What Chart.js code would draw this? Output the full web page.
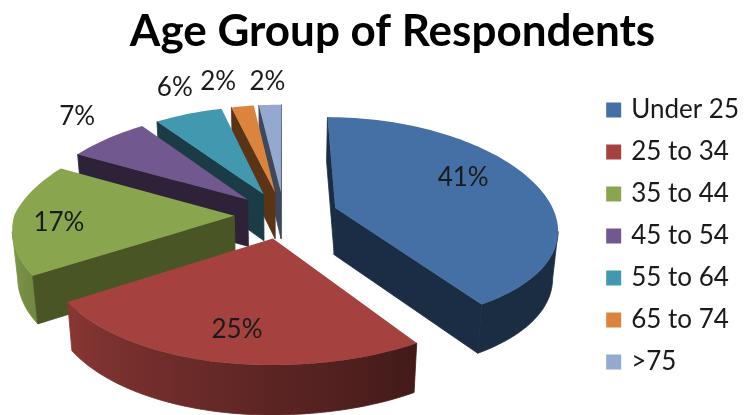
<!DOCTYPE html>
<html>
<head>
<meta charset="utf-8">
<title>Age Group of Respondents</title>
<script src="https://cdn.jsdelivr.net/npm/chart.js@4/dist/chart.umd.js"></script>
<style>
  html, body { margin: 0; padding: 0; background: #fff; }
  canvas { display: block; filter: blur(0.4px); }
</style>
</head>
<body>
<canvas id="myChart" width="744" height="415"></canvas>
<script>
const categories = ["Under 25", "25 to 34", "35 to 44", "45 to 54", "55 to 64", "65 to 74", ">75"];
const percents = [41, 25, 17, 7, 6, 2, 2];

const topColors = ["#4470a5", "#a5423f", "#89a54e", "#71588f", "#4198af", "#db843d", "#93a9cf"];
const sideColors = ["#1a2d44", "#4a1a18", "#4a5526", "#2d2238", "#1b3c46", "#5b3416", "#3f485b"];
const sliceOffsets = [37, 34, 34, 34, 34, 34, 34];
// label position along the slice radius, then a small nudge in pixels
const labelRadius = [0.62, 0.6, 0.6, 1.2, 1.2, 1.2, 1.2];
const labelNudge = [[4, -13], [-3, 21], [-43, 5], [-6, -11], [-1, -12], [-19, -10], [-1, -8]];

// tilted view of the pie, unit radius = view.a px wide and view.b px deep
const view = { x: 284, y: 215, a: 220, b: 104, perspX: 5.5, perspY: 7.9, nearLeft: 17, depth: 47, taper: 0.98 };

function project(X, Y) {
  // the near left quarter sits a little tighter than plain perspective gives
  const pull = view.nearLeft * Math.max(0, -X) * Math.max(0, -Y);
  return {
    x: view.x + view.a * X / (1 + Y / view.perspX) + pull,
    y: view.y - view.b * Y / (1 + Y / view.perspY)
  };
}

function extrude(p, Y) {
  return {
    x: view.x + (p.x - view.x) * view.taper,
    y: p.y + view.depth * (1 - Y * 0.05)
  };
}

function sliceWorld(arc) {
  const { startAngle, endAngle, outerRadius } = arc.getProps(["startAngle", "endAngle", "outerRadius"]);
  const mid = (startAngle + endAngle) / 2;
  const off = arc.options.offset / outerRadius;
  return { startAngle, endAngle, mid, apexX: Math.cos(mid) * off, apexY: -Math.sin(mid) * off };
}

function shade(hex, f) {
  const n = parseInt(hex.slice(1), 16);
  const c = [n >> 16, (n >> 8) & 255, n & 255].map(v => Math.round(v * f));
  return `rgb(${c[0]}, ${c[1]}, ${c[2]})`;
}

function wallShade(angle) {
  // clockwise degrees from the top of the pie
  const deg = (angle * 180 / Math.PI + 90 + 360) % 360;
  return Math.min(0.92, Math.max(0.4, 0.4 + (deg - 147) / 90 * 0.43));
}

class Arc3D extends Chart.ArcElement {
  draw(ctx) {
    const w = sliceWorld(this);
    const i = this.$context.dataIndex;
    const top = [], bottom = [], angles = [];
    const add = (X, Y, a) => {
      const p = project(X, Y);
      top.push(p);
      bottom.push(extrude(p, Y));
      angles.push(a);
    };
    add(w.apexX, w.apexY, null);
    const steps = Math.ceil((w.endAngle - w.startAngle) / 0.03);
    for (let s = 0; s <= steps; s++) {
      const a = w.startAngle + (w.endAngle - w.startAngle) * s / steps;
      add(w.apexX + Math.cos(a), w.apexY - Math.sin(a), a);
    }

    ctx.lineWidth = 0.8;

    // curved wall: the part of the rim running right to left on screen
    const run = [];
    for (let k = 1; k < top.length; k++) {
      const goesLeft = (k < top.length - 1 && top[k + 1].x < top[k].x) || (k > 1 && top[k].x < top[k - 1].x);
      if (goesLeft) run.push(k);
    }
    if (run.length > 1) {
      const right = top[run[0]].x;
      const left = top[run[run.length - 1]].x;
      const grad = ctx.createLinearGradient(left, 0, right, 0);
      run.forEach(k => {
        const pos = (top[k].x - left) / (right - left);
        grad.addColorStop(Math.min(1, Math.max(0, pos)), shade(topColors[i], wallShade(angles[k])));
      });
      ctx.beginPath();
      run.forEach((k, c) => (c ? ctx.lineTo(top[k].x, top[k].y) : ctx.moveTo(top[k].x, top[k].y)));
      run.slice().reverse().forEach(k => ctx.lineTo(bottom[k].x, bottom[k].y));
      ctx.closePath();
      ctx.fillStyle = grad;
      ctx.strokeStyle = grad;
      ctx.fill();
      ctx.stroke();
    }

    // flat sides: the two radial edges, when they face the viewer
    [0, top.length - 1].forEach(k => {
      const n = (k + 1) % top.length;
      if (top[n].x >= top[k].x) return;
      ctx.beginPath();
      ctx.moveTo(top[k].x, top[k].y);
      ctx.lineTo(top[n].x, top[n].y);
      ctx.lineTo(bottom[n].x, bottom[n].y);
      ctx.lineTo(bottom[k].x, bottom[k].y);
      ctx.closePath();
      ctx.fillStyle = sideColors[i];
      ctx.strokeStyle = sideColors[i];
      ctx.fill();
      ctx.stroke();
    });

    ctx.beginPath();
    top.forEach((p, k) => (k ? ctx.lineTo(p.x, p.y) : ctx.moveTo(p.x, p.y)));
    ctx.closePath();
    ctx.fillStyle = topColors[i];
    ctx.fill();
  }
}
Arc3D.id = "arc3d";

class Pie3DController extends Chart.PieController {
  draw() {
    // back slices first so the front ones cover them
    const arcs = this._cachedMeta.data.slice();
    arcs.sort((p, q) => sliceWorld(q).apexY - sliceWorld(p).apexY);
    arcs.forEach(arc => arc.draw(this.chart.ctx));
  }
}
Pie3DController.id = "pie3d";
Pie3DController.defaults = { dataElementType: "arc3d" };

Chart.register(Arc3D, Pie3DController);

const sliceLabels = {
  id: "sliceLabels",
  afterDatasetsDraw(chart) {
    const ctx = chart.ctx;
    ctx.save();
    ctx.font = "26px Lato";
    ctx.fillStyle = "#1a1a1a";
    ctx.textAlign = "center";
    ctx.textBaseline = "middle";
    chart.getDatasetMeta(0).data.forEach((arc, i) => {
      const w = sliceWorld(arc);
      const r = labelRadius[i];
      const p = project(w.apexX + Math.cos(w.mid) * r, w.apexY - Math.sin(w.mid) * r);
      ctx.fillText(percents[i] + "%", p.x + labelNudge[i][0], p.y + labelNudge[i][1]);
    });
    ctx.restore();
  }
};

const pieChart = new Chart(document.getElementById("myChart"), {
  type: "pie3d",
  data: {
    labels: categories,
    datasets: [{
      data: percents,
      backgroundColor: topColors,
      borderColor: topColors,
      borderWidth: 6,
      offset: sliceOffsets
    }]
  },
  plugins: [sliceLabels],
  options: {
    responsive: false,
    animation: false,
    layout: { padding: { left: 36, right: -5, bottom: 7 } },
    plugins: {
      tooltip: { enabled: false },
      title: {
        display: true,
        text: "Age Group of Respondents",
        color: "#000",
        font: { family: "Lato", size: 44, weight: "bold" },
        padding: { top: 5, bottom: 6 }
      },
      legend: {
        position: "right",
        fullSize: false,
        labels: {
          color: "#1a1a1a",
          font: { family: "Lato", size: 26 },
          boxWidth: 9,
          boxHeight: 9,
          padding: 16
        }
      }
    }
  }
});
</script>
</body>
</html>
